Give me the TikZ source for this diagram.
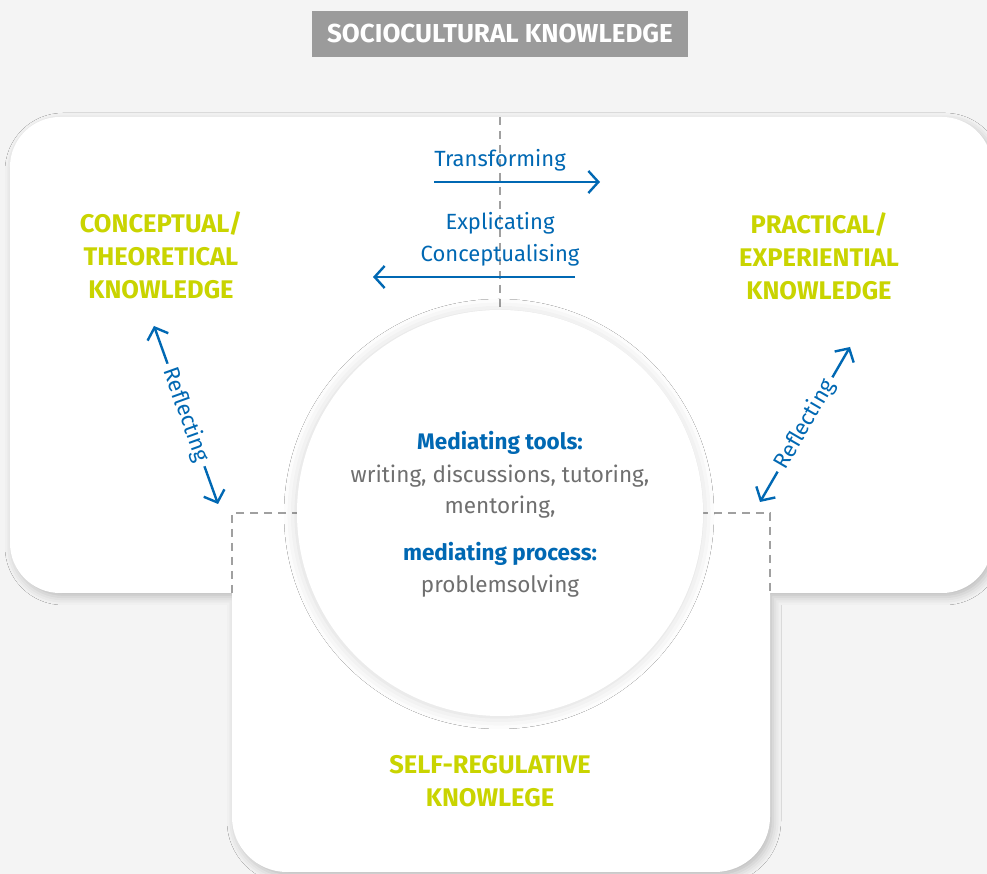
\documentclass[tikz,border=0pt]{standalone}
\usepackage{fontspec}
\setmainfont{Fira Sans}
\usetikzlibrary{arrows.meta,shadows.blur}
\definecolor{bg}{HTML}{F4F4F4}
\definecolor{lime}{HTML}{C9D400}
\definecolor{navy}{HTML}{0068B3}
\definecolor{txtgrey}{HTML}{6F6F6F}
\definecolor{dashgrey}{HTML}{A0A0A0}
\definecolor{titlegrey}{HTML}{9B9B9B}
\begin{document}
\begin{tikzpicture}[x=1pt,y=1pt,
  kn/.style={text=lime, font=\fontsize{25.5}{33}\selectfont\bfseries, align=center, inner sep=0pt},
  flow/.style={text=navy, font=\fontsize{22}{31}\selectfont, inner sep=0pt},
  arr/.style={draw=navy, line width=2.4pt, -{Straight Barb[length=10pt,width=22pt]}},
  biarr/.style={draw=navy, line width=2.4pt, {Straight Barb[length=10pt,width=22pt]}-{Straight Barb[length=10pt,width=22pt]}},
  sep/.style={draw=dashgrey, line width=2pt, dash pattern=on 8pt off 6pt},
  hubtitle/.style={text=navy, font=\fontsize{22.5}{31}\selectfont\bfseries, inner sep=0pt},
  hubtext/.style={text=txtgrey, font=\fontsize{22.5}{31}\selectfont, inner sep=0pt},
]
\useasboundingbox (0,0) rectangle (987,874);
\fill[bg] (0,0) rectangle (987,874);

% white field shape
\path[fill=white, blur shadow={shadow xshift=3pt, shadow yshift=-4pt, shadow blur radius=8pt, shadow opacity=22}]
  (232,281) -- (60,281) arc[start angle=270, end angle=180, radius=50pt]
  -- (10,707) arc[start angle=180, end angle=90, radius=50pt]
  -- (942,757) arc[start angle=90, end angle=0, radius=50pt]
  -- (992,331) arc[start angle=0, end angle=-90, radius=50pt]
  -- (770,281) -- (770,57) arc[start angle=0, end angle=-90, radius=55pt]
  -- (287,2) arc[start angle=270, end angle=180, radius=55pt] -- cycle;

% separators
\coordinate (sTop) at (500,757);
\coordinate (sTopEnd) at (500,566);
\coordinate (sL1) at (300,361);
\coordinate (sL2) at (232,361);
\coordinate (sL3) at (232,281);
\coordinate (sR1) at (700,361);
\coordinate (sR2) at (770,361);
\coordinate (sR3) at (770,281);
\draw[sep] (sTop) -- (sTopEnd);
\draw[sep] (sL1) -- (sL2) -- (sL3);
\draw[sep] (sR1) -- (sR2) -- (sR3);

% central circle
\node (hub) [circle, fill=white, minimum size=406pt, inner sep=0pt,
  blur shadow={shadow xshift=-1pt, shadow yshift=-1pt, shadow blur radius=12pt, shadow opacity=16}] at (500,361) {};
\node (mt) [hubtitle] at (500,431) {Mediating tools:};
\node (mt1) [hubtext] at (500,398) {writing, discussions, tutoring,};
\node (mt2) [hubtext] at (500,367) {mentoring,};
\node (mp) [hubtitle] at (500,320) {mediating process:};
\node (mp1) [hubtext] at (500,288) {problemsolving};

% title
\node (title) [fill=titlegrey, text=white, minimum width=376pt, minimum height=46pt, inner sep=0pt,
  font=\fontsize{26}{30}\selectfont\bfseries] at (500,840) {SOCIOCULTURAL KNOWLEDGE};

% knowledge labels
\node (concept) [kn] at (161,619) {CONCEPTUAL/\\THEORETICAL\\KNOWLEDGE};
\node (practice) [kn] at (819,618) {PRACTICAL/\\EXPERIENTIAL\\KNOWLEDGE};
\node (selfreg) [kn] at (490,93) {SELF-REGULATIVE\\KNOWLEGE};

% transforming / explicating
\node (trans) [flow] at (500,714) {Transforming};
\coordinate (tA) at (434,692);
\coordinate (tB) at (600,692);
\draw[arr] (tA) -- (tB);
\node (expl) [flow] at (500,651) {Explicating};
\node (conc) [flow] at (500,619) {Conceptualising};
\coordinate (eA) at (575,597);
\coordinate (eB) at (373,597);
\draw[arr] (eA) -- (eB);

% reflecting arrows
\coordinate (lA) at (154,548);
\coordinate (lB) at (218,370);
\draw[biarr] (lA) -- (lB) node[midway, sloped, fill=white, inner sep=5pt, text=navy, font=\fontsize{22}{25}\selectfont] (lrefl) {Reflecting};
\coordinate (rA) at (760,372);
\coordinate (rB) at (850,527);
\draw[biarr] (rA) -- (rB) node[midway, sloped, fill=white, inner sep=5pt, text=navy, font=\fontsize{22}{25}\selectfont] (rrefl) {Reflecting};
\end{tikzpicture}
\end{document}
